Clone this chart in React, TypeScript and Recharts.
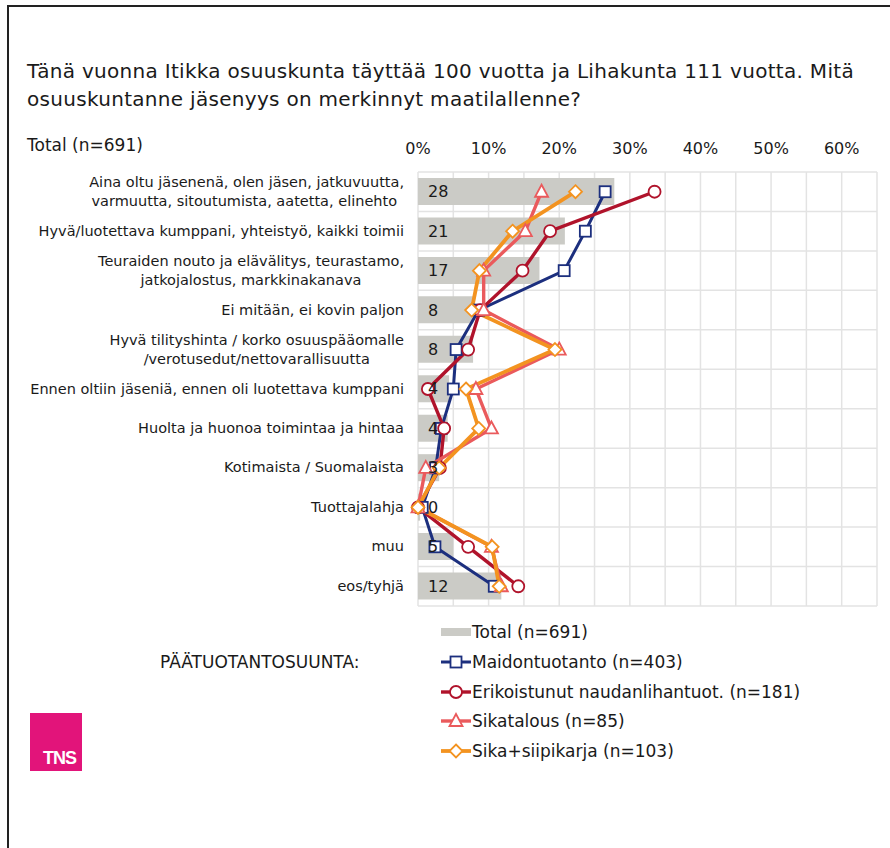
import React from "react";
import {
  ComposedChart,
  Bar,
  Line,
  XAxis,
  YAxis,
  CartesianGrid,
  LabelList,
} from "recharts";

const categories = [
  "Aina oltu jäsenenä, olen jäsen, jatkuvuutta,\nvarmuutta, sitoutumista, aatetta, elinehto ",
  "Hyvä/luotettava kumppani, yhteistyö, kaikki toimii",
  "Teuraiden nouto ja elävälitys, teurastamo,\njatkojalostus, markkinakanava",
  "Ei mitään, ei kovin paljon",
  "Hyvä tilityshinta / korko osuuspääomalle\n/verotusedut/nettovarallisuutta",
  "Ennen oltiin jäseniä, ennen oli luotettava kumppani",
  "Huolta ja huonoa toimintaa ja hintaa",
  "Kotimaista / Suomalaista",
  "Tuottajalahja",
  "muu",
  "eos/tyhjä",
];

const total = [27.8, 20.8, 17.2, 7.8, 7.8, 4.4, 4.2, 3.0, 0.3, 5.0, 11.8];
const maido = [26.5, 23.7, 20.7, 8.6, 5.4, 5.0, 3.3, 2.5, 0.6, 2.4, 10.8];
const erik = [33.5, 18.7, 14.8, 8.8, 7.1, 1.4, 3.7, 3.1, 0, 7.1, 14.2];
const sika = [17.5, 15.2, 9.3, 9.3, 20.0, 8.2, 10.4, 1.1, 0, 10.4, 11.8];
const siipi = [22.3, 13.4, 8.7, 7.6, 19.4, 6.8, 8.6, 3.0, 0, 10.5, 11.5];

const xTicks = [0, 5, 10, 15, 20, 25, 30, 35, 40, 45, 50, 55, 60, 65];

const data = categories.map((name, i) => ({
  name,
  total: total[i],
  maido: maido[i],
  erik: erik[i],
  sika: sika[i],
  siipi: siipi[i],
}));

const FONT = "'DejaVu Sans', Verdana, sans-serif";
const TEXT = "#1a1a1a";

const series = [
  { key: "maido", name: "Maidontuotanto (n=403)", color: "#1c2f7e", width: 3, shape: "square" },
  { key: "erik", name: "Erikoistunut naudanlihantuot. (n=181)", color: "#b0132b", width: 3.4, shape: "circle" },
  { key: "sika", name: "Sikatalous (n=85)", color: "#ea5a5c", width: 3.4, shape: "triangle" },
  { key: "siipi", name: "Sika+siipikarja (n=103)", color: "#f39320", width: 3.8, shape: "diamond" },
];

function Marker({ cx, cy, shape, color }: any) {
  if (cx == null || cy == null) return null;
  const sw = 1.8;
  if (shape === "square")
    return <rect x={cx - 5.5} y={cy - 5.5} width={11} height={11} fill="#fff" stroke={color} strokeWidth={sw} />;
  if (shape === "circle") return <circle cx={cx} cy={cy} r={6} fill="#fff" stroke={color} strokeWidth={sw} />;
  if (shape === "triangle")
    return (
      <polygon
        points={`${cx},${cy - 7} ${cx + 6.5},${cy + 5} ${cx - 6.5},${cy + 5}`}
        fill="#fff"
        stroke={color}
        strokeWidth={sw}
      />
    );
  return (
    <polygon
      points={`${cx},${cy - 6.5} ${cx + 6.5},${cy} ${cx},${cy + 6.5} ${cx - 6.5},${cy}`}
      fill="#fff"
      stroke={color}
      strokeWidth={sw}
    />
  );
}

function XTick({ x, y, payload }: any) {
  const v = payload.value;
  if (v % 10 !== 0 || v > 60) return null;
  return (
    <text x={x} y={y} dy={-10} textAnchor="middle" fontSize={16} fontFamily={FONT} fill={TEXT}>
      {v}%
    </text>
  );
}

function CatTick({ y, payload }: any) {
  const lines = String(payload.value).split("\n");
  return (
    <foreignObject x={0} y={y - 25} width={404} height={50}>
      <div
        style={{
          height: 50,
          display: "flex",
          alignItems: "center",
          justifyContent: "flex-end",
          fontFamily: FONT,
          fontSize: 14.5,
          lineHeight: "19px",
          color: TEXT,
        }}
      >
        <div style={{ textAlign: "center", whiteSpace: "pre" }}>
          {lines.map((l, i) => (
            <div key={i}>{l}</div>
          ))}
        </div>
      </div>
    </foreignObject>
  );
}

function LegendBox() {
  const row = 29.8;
  return (
    <div style={{ position: "absolute", left: 0, top: 0, fontFamily: FONT, fontSize: 17, color: TEXT }}>
      <div style={{ position: "absolute", left: 160, top: 652, whiteSpace: "nowrap" }}>PÄÄTUOTANTOSUUNTA:</div>
      <div style={{ position: "absolute", left: 440, top: 621, display: "flex", alignItems: "center", height: 22 }}>
        <svg width={32} height={20}>
          <rect x={1} y={6} width={30} height={8} fill="#cbcbc6" />
        </svg>
        <span style={{ whiteSpace: "nowrap" }}>Total (n=691)</span>
      </div>
      {series.map((s, i) => (
        <div
          key={s.key}
          style={{
            position: "absolute",
            left: 440,
            top: 621 + (i + 1) * row,
            display: "flex",
            alignItems: "center",
            height: 22,
          }}
        >
          <svg width={32} height={20}>
            <line x1={1} x2={31} y1={10} y2={10} stroke={s.color} strokeWidth={s.width} />
            <Marker cx={16} cy={10} shape={s.shape} color={s.color} />
          </svg>
          <span style={{ whiteSpace: "nowrap" }}>{s.name}</span>
        </div>
      ))}
    </div>
  );
}

export default function App() {
  return (
    <div style={{ position: "absolute", left: 0, top: 0, width: 890, height: 848, background: "#fff", overflow: "hidden" }}>
      <div
        style={{
          position: "absolute",
          left: 7,
          top: 5,
          width: 900,
          height: 860,
          borderLeft: "2px solid #222",
          borderTop: "2px solid #222",
        }}
      />
      <div
        style={{
          position: "absolute",
          left: 27,
          top: 57,
          fontFamily: FONT,
          fontSize: 20,
          letterSpacing: 0.3,
          lineHeight: "28px",
          color: TEXT,
          whiteSpace: "nowrap",
        }}
      >
        Tänä vuonna Itikka osuuskunta täyttää 100 vuotta ja Lihakunta 111 vuotta. Mitä
        <br />
        osuuskuntanne jäsenyys on merkinnyt maatilallenne?
      </div>
      <div style={{ position: "absolute", left: 27, top: 135, fontFamily: FONT, fontSize: 17, color: TEXT }}>
        Total (n=691)
      </div>
      <div style={{ position: "absolute", left: 0, top: 0 }}>
        <ComposedChart
          width={890}
          height={620}
          layout="vertical"
          data={data}
          margin={{ top: 142, right: 13, bottom: 14, left: 0 }}
        >
          <CartesianGrid
            stroke="#e3e3e3"
            strokeWidth={1.5}
            horizontalCoordinatesGenerator={(props: any) => {
              const top = props?.offset?.top ?? 172;
              const h = props?.offset?.height ?? 434;
              return categories.map((_, i) => top + (i * h) / categories.length).concat(top + h);
            }}
          />
          <XAxis
            type="number"
            orientation="top"
            domain={[0, 65]}
            ticks={xTicks}
            interval={0}
            height={30}
            axisLine={false}
            tickLine={false}
            tick={<XTick />}
          />
          <YAxis
            type="category"
            dataKey="name"
            width={418}
            interval={0}
            axisLine={false}
            tickLine={false}
            tick={<CatTick />}
          />
          <Bar dataKey="total" fill="#cbcbc6" barSize={27} isAnimationActive={false}>
            <LabelList
              dataKey="total"
              position="insideLeft"
              offset={10}
              formatter={(v: any) => Math.round(Number(v))}
              style={{ fontSize: 16, fontFamily: FONT, fill: TEXT }}
            />
          </Bar>
          {series.map((s) => (
            <Line
              key={s.key}
              dataKey={s.key}
              name={s.name}
              stroke={s.color}
              strokeWidth={s.width}
              isAnimationActive={false}
              dot={(p: any) => <Marker key={`${s.key}-${p.index}`} cx={p.cx} cy={p.cy} shape={s.shape} color={s.color} />}
              activeDot={false}
            />
          ))}
        </ComposedChart>
      </div>
      <LegendBox />
      <div
        style={{
          position: "absolute",
          left: 30,
          top: 713,
          width: 52,
          height: 58,
          background: "#e2147a",
        }}
      >
        <span
          style={{
            position: "absolute",
            left: 13,
            bottom: 2,
            color: "#fff",
            fontFamily: "'Liberation Sans', Arial, sans-serif",
            fontSize: 18,
            fontWeight: 600,
            letterSpacing: -1,
          }}
        >
          TNS
        </span>
      </div>
    </div>
  );
}
